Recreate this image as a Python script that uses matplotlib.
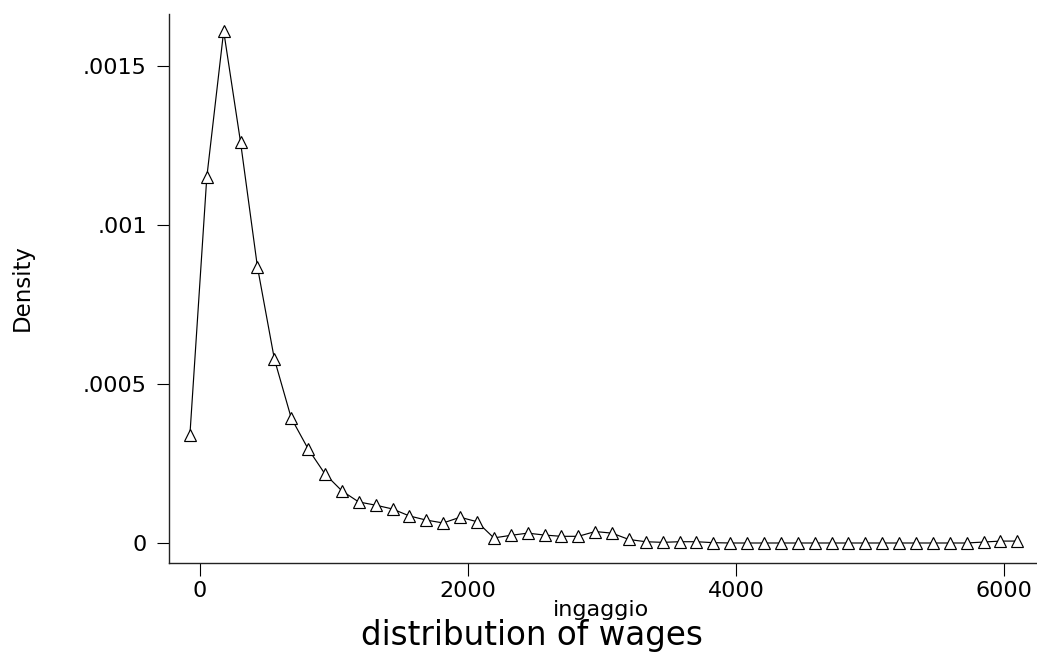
import matplotlib.pyplot as plt

# kernel density estimate of "ingaggio"
ingaggio = [
    -75, 51, 177, 303, 429, 555, 681, 807, 933, 1059,
    1185, 1311, 1437, 1563, 1689, 1815, 1941, 2067, 2193, 2319,
    2445, 2571, 2697, 2823, 2949, 3075, 3201, 3327, 3453, 3579,
    3705, 3831, 3957, 4083, 4209, 4335, 4461, 4587, 4713, 4839,
    4965, 5091, 5217, 5343, 5469, 5595, 5721, 5847, 5973, 6099,
]
density = [
    0.000340, 0.001150, 0.001610, 0.001260, 0.000868, 0.000579, 0.000393, 0.000296, 0.000217, 0.000164,
    0.000129, 0.000119, 0.000107, 0.000085, 0.000072, 0.000063, 0.000081, 0.000067, 0.000016, 0.000024,
    0.000031, 0.000025, 0.000021, 0.000021, 0.000036, 0.000031, 0.000011, 0.000004, 0.000002, 0.000004,
    0.000004, 0.000001, 0.000000, 0.000000, 0.000000, 0.000000, 0.000000, 0.000000, 0.000000, 0.000000,
    0.000000, 0.000000, 0.000000, 0.000000, 0.000000, 0.000000, 0.000000, 0.000003, 0.000006, 0.000006,
]
x_ticks = [0, 2000, 4000, 6000]
x_tick_labels = ["0", "2000", "4000", "6000"]
y_ticks = [0, 0.0005, 0.001, 0.0015]
y_tick_labels = ["0", ".0005", ".001", ".0015"]

W, H = 1037, 653
fig = plt.figure(figsize=(W / 100, H / 100), dpi=100)
ax = fig.add_axes([169 / W, 1 - 563 / H, (W - 169) / W, (563 - 14) / H])

ax.plot(
    ingaggio, density,
    color="black", linewidth=0.85,
    marker="^", markersize=8,
    markerfacecolor="white", markeredgecolor="black", markeredgewidth=0.85,
)

ax.set_xlim(-231, 6246)
ax.set_ylim(-0.0000629, 0.0016635)

ax.set_xticks(x_ticks)
ax.set_xticklabels(x_tick_labels)
ax.set_yticks(y_ticks)
ax.set_yticklabels(y_tick_labels)
ax.tick_params(axis="both", direction="out", length=9, width=0.8,
               labelsize=16, colors="black")
ax.tick_params(axis="x", pad=4)
ax.tick_params(axis="y", pad=7)

for side in ("top", "right"):
    ax.spines[side].set_visible(False)
for side in ("left", "bottom"):
    ax.spines[side].set_linewidth(1.0)
    ax.spines[side].set_color("#222222")

# axis titles placed in figure coordinates to match the reference layout
fig.text(22 / W, 1 - 288 / H, "Density", fontsize=16.5, rotation=90,
         ha="center", va="center")
fig.text(601 / W, 1 - 610 / H, "ingaggio", fontsize=16, ha="center", va="center")
fig.text(532 / W, 1 - 635 / H, "distribution of wages", fontsize=23.5,
         ha="center", va="center")

fig.savefig("out.png", dpi=100)
